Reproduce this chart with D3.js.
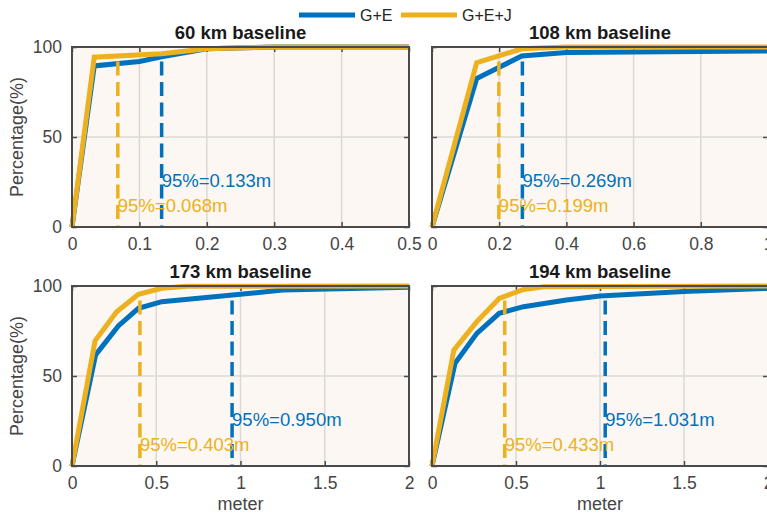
<!DOCTYPE html>
<html><head><meta charset="utf-8">
<script src="https://cdn.jsdelivr.net/npm/d3@7"></script>
<style>
html,body{margin:0;padding:0;background:#fff;}
svg{display:block;font-family:"Liberation Sans",Arial,Helvetica,sans-serif;}
</style></head><body>
<svg id="c" width="767" height="513"></svg>
<script>
// ---- data ----
const seriesNames = ["G+E", "G+E+J"];
const seriesColors = ["#0072BD", "#EDB120"];
const panelTitles = ["60 km baseline", "108 km baseline", "173 km baseline", "194 km baseline"];
const xMax = [0.5, 1, 2, 2];
const xTicks = [[0, 0.1, 0.2, 0.3, 0.4, 0.5], [0, 0.2, 0.4, 0.6, 0.8, 1], [0, 0.5, 1, 1.5, 2], [0, 0.5, 1, 1.5, 2]];
const yTicks = [0, 50, 100];

// G+E (blue) curves
const geX = [
  [0, 0.033, 0.1, 0.133, 0.2, 0.3, 0.5],
  [0, 0.133, 0.267, 0.4, 1.0],
  [0, 0.14, 0.275, 0.394, 0.533, 1.0, 1.25, 2],
  [0, 0.137, 0.267, 0.4, 0.545, 0.8, 1.0, 1.5, 2]
];
const geY = [
  [0, 89.5, 92, 94.5, 99, 100, 100],
  [0, 82.5, 95, 97, 97.8],
  [0, 61.7, 77.8, 87.6, 91.3, 95.4, 97.8, 99.3],
  [0, 57, 73.7, 84.8, 88.5, 92.2, 94.4, 96.9, 98.7]
];
// G+E+J (orange) curves
const gejX = [
  [0, 0.033, 0.133, 0.2, 0.3, 0.5],
  [0, 0.133, 0.267, 0.4, 1.0],
  [0, 0.137, 0.265, 0.394, 0.533, 0.68, 2],
  [0, 0.13, 0.267, 0.4, 0.545, 0.665, 2]
];
const gejY = [
  [0, 94.3, 96.2, 99, 100, 100],
  [0, 91.3, 99, 100, 100],
  [0, 69.6, 85.7, 95.4, 98.7, 99.8, 100],
  [0, 64.4, 80.2, 93.1, 98.1, 99.6, 100]
];
// 95% thresholds
const p95GE = [0.133, 0.269, 0.950, 1.031];
const p95GEJ = [0.068, 0.199, 0.403, 0.433];
const p95Labels = [["0.133", "0.068"], ["0.269", "0.199"], ["0.950", "0.403"], ["1.031", "0.433"]];
const dashTop = 92;        // % where the dashed markers end
const labelLevels = [26, 12]; // % at which the annotation texts sit

// ---- layout ----
const panels = [
  {x0: 72, x1: 409, y0: 47, y1: 227},
  {x0: 432, x1: 768, y0: 47, y1: 227},
  {x0: 72, x1: 409, y0: 286, y1: 466},
  {x0: 432, x1: 768, y0: 286, y1: 466}
];
const axisCol = "#4a4a4a", textCol = "#454545", gridCol = "#dcd8d4", bgCol = "#fcf7f2";

const svg = d3.select("#c");

panels.forEach((p, i) => {
  const x = d3.scaleLinear().domain([0, xMax[i]]).range([p.x0, p.x1]);
  const y = d3.scaleLinear().domain([0, 100]).range([p.y1, p.y0]);
  const g = svg.append("g");

  g.append("rect").attr("x", p.x0).attr("y", p.y0).attr("width", p.x1 - p.x0).attr("height", p.y1 - p.y0)
    .attr("fill", bgCol);

  // grid
  g.selectAll(".gx").data(xTicks[i].slice(1, -1)).join("line")
    .attr("x1", d => x(d)).attr("x2", d => x(d)).attr("y1", p.y0).attr("y2", p.y1)
    .attr("stroke", gridCol).attr("stroke-width", 1.5);
  g.selectAll(".gy").data(yTicks.slice(1, -1)).join("line")
    .attr("y1", d => y(d)).attr("y2", d => y(d)).attr("x1", p.x0).attr("x2", p.x1)
    .attr("stroke", gridCol).attr("stroke-width", 1.5);

  // axes (ticks inward on all sides)
  const tl = 5;
  const bottom = g.append("g").attr("transform", `translate(0,${p.y1})`)
    .call(d3.axisBottom(x).tickValues(xTicks[i]).tickSize(-tl).tickFormat(d3.format("")));
  const top = g.append("g").attr("transform", `translate(0,${p.y0})`)
    .call(d3.axisTop(x).tickValues(xTicks[i]).tickSize(-tl).tickFormat(""));
  const left = g.append("g").attr("transform", `translate(${p.x0},0)`)
    .call(d3.axisLeft(y).tickValues(yTicks).tickSize(-tl).tickPadding(tl + 5)
      .tickFormat(i % 2 === 0 ? d3.format("") : ""));
  const right = g.append("g").attr("transform", `translate(${p.x1},0)`)
    .call(d3.axisRight(y).tickValues(yTicks).tickSize(-tl).tickFormat(""));
  [bottom, top, left, right].forEach(a => {
    a.select(".domain").remove();
    a.selectAll("line").attr("stroke", axisCol).attr("stroke-width", 1.5);
    a.selectAll("text").attr("fill", textCol).attr("font-size", 17.5).attr("font-family", null);
  });
  bottom.selectAll("text").attr("dy", "0.71em").attr("y", 11);

  // lines
  const line = d3.line();
  const series = [[geX[i], geY[i]], [gejX[i], gejY[i]]];
  series.forEach((s, k) => {
    const pts = s[0].map((v, j) => [x(v), y(s[1][j])]);
    g.append("path").attr("d", line(pts)).attr("fill", "none")
      .attr("stroke", seriesColors[k]).attr("stroke-width", 5).attr("stroke-linejoin", "miter");
  });

  // dashed 95% markers
  [p95GE[i], p95GEJ[i]].forEach((v, k) => {
    g.append("line").attr("x1", x(v)).attr("x2", x(v)).attr("y1", y(dashTop)).attr("y2", y(0))
      .attr("stroke", seriesColors[k]).attr("stroke-width", 3.5).attr("stroke-dasharray", "14,6.5");
    g.append("text").attr("x", x(v)).attr("y", y(labelLevels[k])).attr("dy", "0.35em")
      .attr("fill", seriesColors[k]).attr("font-size", 18.5)
      .text(`95%=${p95Labels[i][k]}m`);
  });

  // box
  g.append("rect").attr("x", p.x0).attr("y", p.y0).attr("width", p.x1 - p.x0).attr("height", p.y1 - p.y0)
    .attr("fill", "none").attr("stroke", axisCol).attr("stroke-width", 2);

  // title
  g.append("text").attr("x", (p.x0 + p.x1) / 2).attr("y", p.y0 - 8).attr("text-anchor", "middle")
    .attr("font-size", 18.5).attr("font-weight", "bold").attr("fill", "#1a1a1a").text(panelTitles[i]);

  // axis labels
  if (i % 2 === 0) {
    g.append("text").attr("transform", `translate(23,${(p.y0 + p.y1) / 2}) rotate(-90)`)
      .attr("text-anchor", "middle").attr("font-size", 18).attr("fill", textCol).text("Percentage(%)");
  }
  if (i >= 2) {
    g.append("text").attr("x", (p.x0 + p.x1) / 2).attr("y", 510).attr("text-anchor", "middle")
      .attr("font-size", 18).attr("fill", textCol).text("meter");
  }
});

// legend
const legX = [299, 401];
seriesNames.forEach((n, k) => {
  svg.append("line").attr("x1", legX[k]).attr("x2", legX[k] + 56).attr("y1", 15).attr("y2", 15)
    .attr("stroke", seriesColors[k]).attr("stroke-width", 5);
  svg.append("text").attr("x", legX[k] + 61).attr("y", 15).attr("dy", "0.35em")
    .attr("font-size", 16).attr("fill", "#262626").text(n);
});
</script>
</body></html>
